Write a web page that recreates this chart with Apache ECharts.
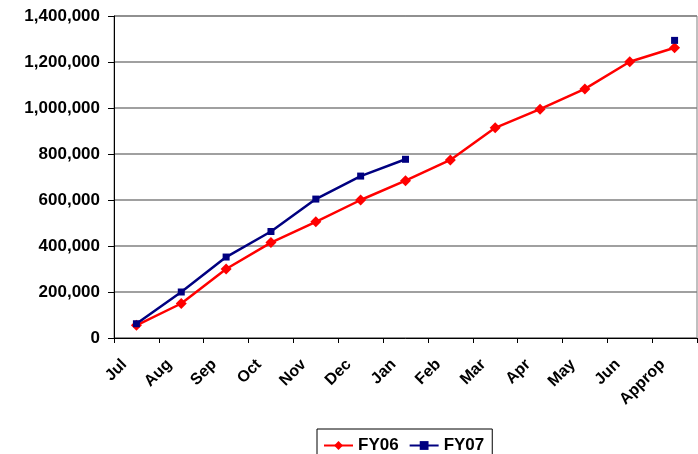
<!DOCTYPE html>
<html>
<head>
<meta charset="utf-8">
<script src="https://cdn.jsdelivr.net/npm/echarts@6/dist/echarts.min.js"></script>
<style>
html,body{margin:0;padding:0;background:#fff;}
#c{width:698px;height:454px;}
</style>
</head>
<body>
<div id="c"></div>
<script>
var categories = ['Jul','Aug','Sep','Oct','Nov','Dec','Jan','Feb','Mar','Apr','May','Jun','Approp'];
var fy06 = [55000,150000,300000,415000,505000,600000,684000,774000,914000,995000,1083000,1201000,1262000];
var fy07 = [62000,200000,352000,463000,604000,704000,777000,null,null,null,null,null,1294000];
var yTicks = [0,200000,400000,600000,800000,1000000,1200000,1400000];

var font = '"Liberation Sans", Arial, sans-serif';
var chart = echarts.init(document.getElementById('c'), null, {renderer:'canvas'});
chart.setOption({
  animation:false,
  backgroundColor:'#fff',
  grid:{left:114, right:1, top:16, bottom:116, show:true, borderColor:'#808080', borderWidth:1, backgroundColor:'transparent'},
  legend:{
    left:317, top:429,
    data:['FY06','FY07'],
    itemWidth:29, itemHeight:11, itemGap:10,
    padding:[8,8,12,6],
    borderColor:'#000', borderWidth:1,
    textStyle:{fontFamily:font, fontWeight:'bold', fontSize:17, color:'#000'}
  },
  xAxis:{
    type:'category', data:categories, boundaryGap:true,
    axisLine:{lineStyle:{color:'#000', width:1}},
    axisTick:{show:true, length:5, lineStyle:{color:'#000'}},
    axisLabel:{rotate:45, margin:12, interval:0, color:'#000', fontFamily:font, fontWeight:'bold', fontSize:16, padding:[0,17,0,0]},
    splitLine:{show:false}
  },
  yAxis:{
    type:'value', min:yTicks[0], max:yTicks[yTicks.length-1], interval:200000,
    axisLine:{show:true, lineStyle:{color:'#000', width:1}},
    axisTick:{show:true, length:6, lineStyle:{color:'#000'}},
    axisLabel:{margin:14, color:'#000', fontFamily:font, fontWeight:'bold', fontSize:17,
      formatter:function(v){return v.toLocaleString('en-US');}},
    splitLine:{show:true, lineStyle:{color:'#808080', width:1.5}}
  },
  series:[
    {name:'FY06', type:'line', data:fy06, symbol:'diamond', symbolSize:11, showAllSymbol:true,
     lineStyle:{color:'#FF0000', width:2.5}, itemStyle:{color:'#FF0000'}},
    {name:'FY07', type:'line', data:fy07, symbol:'rect', symbolSize:7, connectNulls:false, showAllSymbol:true,
     lineStyle:{color:'#000080', width:2.5}, itemStyle:{color:'#000080'}}
  ]
});
</script>
</body>
</html>
